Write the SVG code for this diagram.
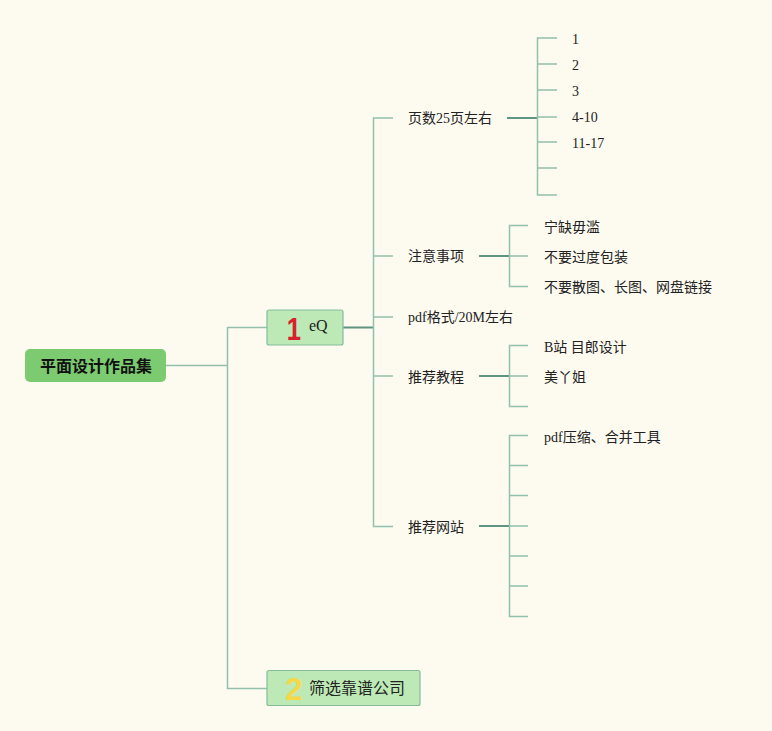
<svg xmlns="http://www.w3.org/2000/svg" width="772" height="731" viewBox="0 0 772 731">
<style>
.bg{fill:#fdfaf0}
.ln{fill:none;stroke:#93c0ab;stroke-width:1.5}
.lnd{fill:none;stroke:#5e9583;stroke-width:2}
.t{font-family:"Liberation Serif","Noto Sans CJK SC",serif;font-size:14px;fill:#222}
.nt{font-family:"Liberation Serif","Noto Sans CJK SC",serif;font-size:16px;fill:#222}
.box{fill:#bce9b5;stroke:#86bd9d;stroke-width:1.2}
.root{fill:#7ccb70}
.rt{font-family:"Noto Sans CJK SC","Liberation Sans",sans-serif;font-size:16px;font-weight:bold;fill:#111}
.num{font-family:"Liberation Sans","DejaVu Sans",sans-serif;font-size:32px;font-weight:bold}
</style>
<rect class="bg" x="0" y="0" width="772" height="731"/>
<g id="connectors">
<path class="ln" d="M166 365.5H227.5M227.5 327V688.5H267M227.5 327.5H267"/>
<path class="lnd" d="M343 327.5H373"/>
<path class="ln" d="M393 118H373.5V526.5H393M373.5 256H393M373.5 317H393M373.5 376H393"/>
<path class="lnd" d="M507 118H537"/>
<path class="ln" d="M557 38H537.5V195H557M537.5 64H557M537.5 90H557M537.5 117H557M537.5 142H557M537.5 168H557"/>
<path class="lnd" d="M479 256H509"/>
<path class="ln" d="M528 225.5H509.5V286.5H528M509.5 256H528"/>
<path class="lnd" d="M479 376H509"/>
<path class="ln" d="M528 345.5H509.5V406.5H528M509.5 376H528"/>
<path class="lnd" d="M479 526H509"/>
<path class="ln" d="M528 435.5H509.5V616.5H528M509.5 465.5H528M509.5 495.5H528M509.5 526H528M509.5 556H528M509.5 586H528"/>
</g>
<g id="root">
<rect class="root" x="25" y="349" width="141" height="33" rx="5"/>
<text class="rt" x="96" y="371.5" text-anchor="middle">平面设计作品集</text>
</g>
<g id="n1">
<rect class="box" x="267" y="310" width="76" height="35" rx="2"/>
<text class="num" x="294" y="340" text-anchor="middle" fill="#d9202e" transform="translate(294 0) scale(0.8 1) translate(-294 0)">1</text>
<text class="nt" x="309" y="331">eQ</text>
</g>
<g id="n2">
<rect class="box" x="267" y="670.5" width="153" height="35" rx="2"/>
<text class="num" x="294" y="700" text-anchor="middle" fill="#f5d84a">2</text>
<text class="nt" x="309" y="694">筛选靠谱公司</text>
</g>
<g id="a1"><text class="t" x="408" y="123">页数25页左右</text></g>
<g id="a1c1"><text class="t" x="572" y="44">1</text></g>
<g id="a1c2"><text class="t" x="572" y="70">2</text></g>
<g id="a1c3"><text class="t" x="572" y="96">3</text></g>
<g id="a1c4"><text class="t" x="572" y="122">4-10</text></g>
<g id="a1c5"><text class="t" x="572" y="148">11-17</text></g>
<g id="a2"><text class="t" x="408" y="261">注意事项</text></g>
<g id="a2c1"><text class="t" x="544" y="232">宁缺毋滥</text></g>
<g id="a2c2"><text class="t" x="544" y="262">不要过度包装</text></g>
<g id="a2c3"><text class="t" x="544" y="292">不要散图、长图、网盘链接</text></g>
<g id="a3"><text class="t" x="408" y="322">pdf格式/20M左右</text></g>
<g id="a4"><text class="t" x="408" y="382">推荐教程</text></g>
<g id="a4c1"><text class="t" x="544" y="352">B站 目郎设计</text></g>
<g id="a4c2"><text class="t" x="544" y="382">美丫姐</text></g>
<g id="a5"><text class="t" x="408" y="532">推荐网站</text></g>
<g id="a5c1"><text class="t" x="544" y="442">pdf压缩、合并工具</text></g>
</svg>
